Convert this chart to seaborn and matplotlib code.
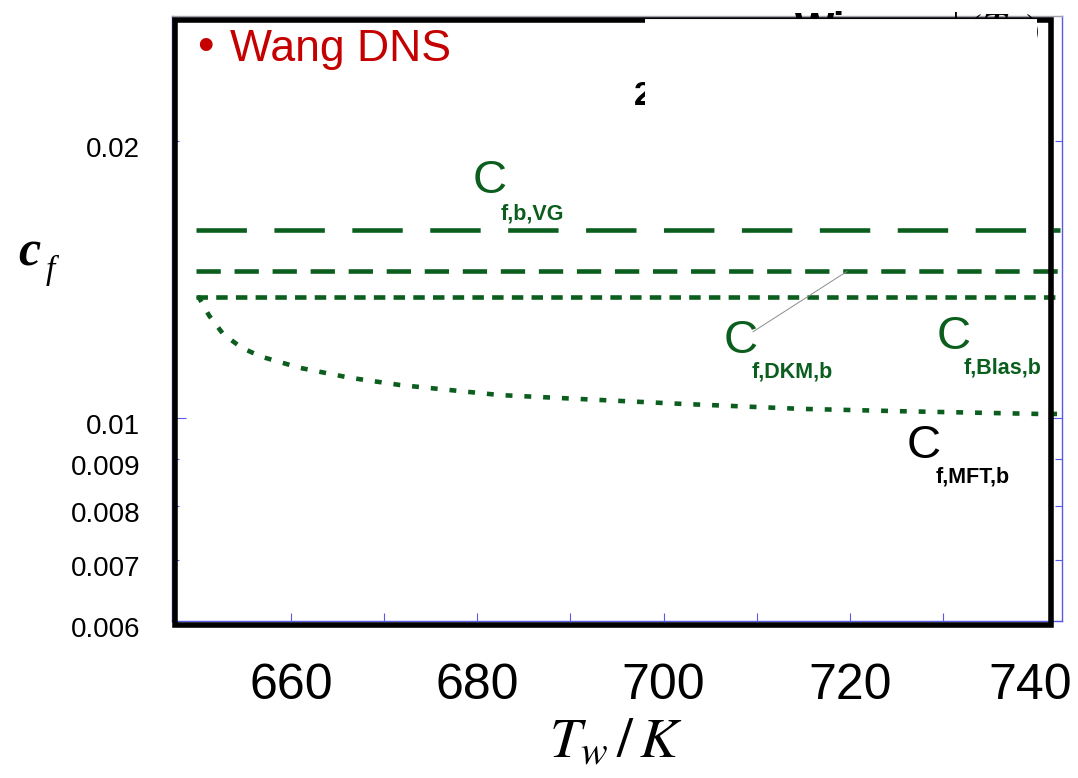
import matplotlib
matplotlib.use("Agg")
import matplotlib.pyplot as plt
import seaborn as sns
from matplotlib.patches import Rectangle
from matplotlib.lines import Line2D
from matplotlib.transforms import ScaledTranslation
from matplotlib.ticker import FixedLocator, FixedFormatter

# ---------------- data ----------------
T_flat = [649.8, 742.6]
cf_vg = [0.01603, 0.01603]
cf_dkm = [0.01443, 0.01443]
cf_blas = [0.01352, 0.01352]
T_mft = [650.0, 651.2, 652.7, 654.7, 656.8, 660.9, 666.3, 671.7, 682.4,
         693.2, 701.8, 714.7, 725.4, 734.0, 740.4, 742.6]
cf_mft = [0.01357, 0.01291, 0.01233, 0.01191, 0.01165, 0.01133, 0.01105,
          0.01085, 0.01058, 0.01045, 0.01035, 0.01022, 0.01016, 0.01012,
          0.01009, 0.01009]

x_ticks = [660, 680, 700, 720, 740]
x_tick_labels = ["660", "680", "700", "720", "740"]
x_mark_ticks = [660, 670, 680, 690, 700, 710, 720, 730]
y_ticks = [0.006, 0.007, 0.008, 0.009, 0.01, 0.02]
y_tick_labels = ["0.006", "0.007", "0.008", "0.009", "0.01", "0.02"]
y_major_value = 0.01

# ---------------- style ----------------
sns.set_style("white")
plt.rcParams['font.family'] = ['Liberation Sans', 'DejaVu Sans']
plt.rcParams['mathtext.fontset'] = 'stix'
plt.rcParams['text.color'] = 'black'
plt.rcParams['xtick.labelcolor'] = 'black'
plt.rcParams['ytick.labelcolor'] = 'black'

GREEN = '#0b5e1e'
RED = '#c40000'
BLUE = '#5a5ae8'
SANS = ['Liberation Sans', 'DejaVu Sans']

W, H = 1078, 778
fig = plt.figure(figsize=(W / 100, H / 100), dpi=100)


def fx(px):
    return px / W


def fy(py):
    return 1 - py / H


ax = fig.add_axes([fx(172), fy(621), fx(1062) - fx(172), fy(16) - fy(621)])
ax.set_facecolor('white')

# ---------------- lines ----------------
specs = [
    (T_flat, cf_vg, (0, (11, 6))),
    (T_flat, cf_dkm, (0, (5.3, 3.0))),
    (T_flat, cf_blas, (0, (2.5, 1.8))),
    (T_mft, cf_mft, (0, (1.5, 2.6))),
]
for xs, ys, ls in specs:
    sns.lineplot(x=xs, y=ys, ax=ax, color=GREEN, lw=3.3, linestyle=ls,
                 estimator=None, sort=False)
    ln = ax.lines[-1]
    ln.set_dash_capstyle('butt')
    ln.set_solid_capstyle('butt')

ax.set_yscale('log')
ax.set_xlim(647.2, 742.8)
ax.set_ylim(0.006, 0.0274)
ax.set_xlabel('')
ax.set_ylabel('')

# ticks: labelled majors without marks, tick marks every 10 K as minors
ax.xaxis.set_major_locator(FixedLocator(x_ticks))
ax.xaxis.set_major_formatter(FixedFormatter(x_tick_labels))
ax.xaxis.set_minor_locator(FixedLocator(x_mark_ticks))
ax.xaxis.remove_overlapping_locs = False

y_major = [v for v in y_ticks if v == y_major_value]
y_major_lab = [l for v, l in zip(y_ticks, y_tick_labels) if v == y_major_value]
y_minor = [v for v in y_ticks if v != y_major_value]
y_minor_lab = [l for v, l in zip(y_ticks, y_tick_labels) if v != y_major_value]
ax.yaxis.set_major_locator(FixedLocator(y_major))
ax.yaxis.set_major_formatter(FixedFormatter(y_major_lab))
ax.yaxis.set_minor_locator(FixedLocator(y_minor))
ax.yaxis.set_minor_formatter(FixedFormatter(y_minor_lab))

ax.tick_params(axis='both', which='both', direction='in', color=BLUE, width=0.8)
ax.tick_params(axis='y', which='major', length=10, left=True, right=True,
               labelsize=20, pad=23, labelcolor='black')
ax.tick_params(axis='y', which='minor', length=5, left=True, right=True,
               labelsize=20, pad=23, labelcolor='black')
ax.tick_params(axis='x', which='major', length=0, bottom=True, top=False,
               labelsize=36, pad=30, labelcolor='black')
ax.tick_params(axis='x', which='minor', length=6, bottom=True, top=False,
               labelbottom=False)

off = ScaledTranslation(0, -6 / 100, fig.dpi_scale_trans)
for lab in ax.get_yticklabels(which='both'):
    lab.set_transform(lab.get_transform() + off)
xlabs = ax.get_xticklabels()
xlabs[-1].set_transform(xlabs[-1].get_transform()
                        + ScaledTranslation(-6 / 100, 0, fig.dpi_scale_trans))

for side in ['left', 'right', 'bottom']:
    ax.spines[side].set_color(BLUE)
    ax.spines[side].set_linewidth(1.0)
ax.spines['top'].set_color('#a0a0b0')
ax.spines['top'].set_linewidth(1.0)

# ---------------- annotations ----------------
C_SIZE = 34
SUB_SIZE = 15.5
ax.text(679.5, 0.01757, "C", color=GREEN, fontsize=C_SIZE, family=SANS,
        va='baseline', ha='left')
ax.text(682.5, 0.01646, "f,b,VG", color=GREEN, fontsize=SUB_SIZE, family=SANS,
        fontweight='bold', va='baseline', ha='left')

ax.text(706.4, 0.01176, "C", color=GREEN, fontsize=C_SIZE, family=SANS,
        va='baseline', ha='left')
ax.text(709.5, 0.01107, "f,DKM,b", color=GREEN, fontsize=SUB_SIZE, family=SANS,
        fontweight='bold', va='baseline', ha='left')

ax.text(729.3, 0.01188, "C", color=GREEN, fontsize=C_SIZE, family=SANS,
        va='baseline', ha='left')
ax.text(732.2, 0.01118, "f,Blas,b", color=GREEN, fontsize=SUB_SIZE, family=SANS,
        fontweight='bold', va='baseline', ha='left')

ax.text(726.1, 0.00903, "C", color='black', fontsize=C_SIZE, family=SANS,
        va='baseline', ha='left')
ax.text(729.2, 0.00849, "f,MFT,b", color='black', fontsize=SUB_SIZE, family=SANS,
        fontweight='bold', va='baseline', ha='left')

ax.annotate("", xy=(719.7, 0.01443), xytext=(709.6, 0.01240),
            arrowprops=dict(arrowstyle='-', color='#8c8c8c', lw=0.7,
                            shrinkA=0, shrinkB=0))

# ---------------- figure-level decorations ----------------
fig.add_artist(Rectangle((fx(174.5), fy(624.5)), fx(1050.5) - fx(174.5),
                         fy(20) - fy(624.5), transform=fig.transFigure,
                         fill=False, ec='black', lw=4.0, zorder=5,
                         joinstyle='miter'))

# partially hidden texts at the top
fig.text(fx(634), fy(105), "2", fontsize=24, fontweight='bold', family=SANS,
         color='black', va='baseline', zorder=6)
fig.text(fx(795), fy(42), "Wi", fontsize=30, fontweight='bold', family=SANS,
         color='black', va='baseline', zorder=6)
fig.text(fx(922), fy(42), r"$u^{+}(T_w)$", fontsize=30, color='black',
         va='baseline', zorder=6)

# white box covering the top area
fig.add_artist(Rectangle((fx(645), fy(150)), fx(1037) - fx(645),
                         fy(18) - fy(150), transform=fig.transFigure,
                         fc='white', ec='none', zorder=7))
fig.add_artist(Line2D([fx(642), fx(1037)], [fy(18), fy(18)],
                      transform=fig.transFigure, color='black', lw=0.8,
                      zorder=8))

# legend-like label
fig.text(fx(197), fy(60), "\u2022", color=RED, fontsize=34, family=SANS,
         va='baseline', zorder=9)
fig.text(fx(230), fy(61), "Wang DNS", color=RED, fontsize=32, family=SANS,
         va='baseline', zorder=9)

# axis labels
fig.text(fx(18), fy(265), "c", fontsize=36, style='italic', fontweight='bold',
         family=['Liberation Serif', 'DejaVu Serif'], va='baseline')
fig.text(fx(46), fy(279), "f", fontsize=24, style='italic',
         family=['Liberation Serif', 'DejaVu Serif'], va='baseline')
fig.text(fx(549), fy(757), r"$T_{w}\,/\,K$", fontsize=41, va='baseline')

fig.savefig("out.png", dpi=100, facecolor='white')
